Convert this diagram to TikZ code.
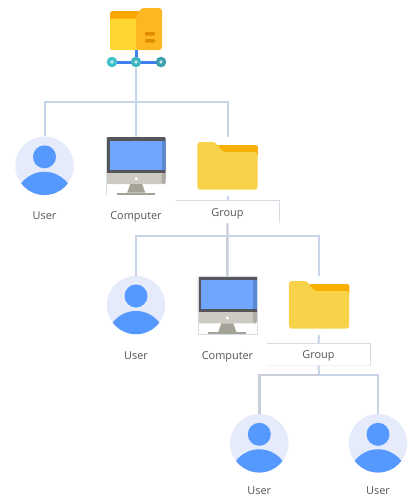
\documentclass[tikz,border=0pt]{standalone}
\usepackage{fontspec}
\setmainfont{Open Sans}
\definecolor{linkc}{HTML}{C6D6E8}
\definecolor{linkg}{HTML}{C9CFD8}
\definecolor{boxc}{HTML}{D6DCE4}
\definecolor{avbg}{HTML}{E6EBFC}
\definecolor{avfg}{HTML}{5599FF}
\definecolor{bezel}{HTML}{55565B}
\definecolor{scr}{HTML}{6FA6FF}
\definecolor{scrd}{HTML}{5A88D2}
\definecolor{silver}{HTML}{CDCAC3}
\definecolor{silverd}{HTML}{B0ADA6}
\definecolor{standc}{HTML}{A5A398}
\definecolor{fold}{HTML}{F8D248}
\definecolor{foldd}{HTML}{F9B000}
\definecolor{rootf}{HTML}{FFD733}
\definecolor{rootb}{HTML}{F9A602}
\definecolor{rootr}{HTML}{FDB720}
\definecolor{rootm}{HTML}{E08C00}
\definecolor{rootl}{HTML}{3F7FF0}
\definecolor{txt}{HTML}{555555}
\tikzset{
  x=1pt,y=-1pt,
  link/.style={draw=linkc,line width=2pt},
  linkthick/.style={draw=linkg,line width=2.4pt},
  boxline/.style={draw=boxc,line width=0.9pt},
  lbl/.style={font=\fontsize{10.9}{12}\selectfont,text=txt,inner sep=0pt,text height=8pt,text depth=0pt},
  groupbox/.style={lbl,minimum width=103pt,minimum height=22pt},
  usericon/.style={circle,inner sep=0pt,minimum size=58.5pt,fill=avbg,
    path picture={
      \begin{scope}[shift={(path picture bounding box.center)}]
        \fill[avfg] (0,-9) circle (11.5);
        \fill[avfg] (0,35.5) circle (29.5);
      \end{scope}}},
  pcicon/.style={rectangle,inner sep=0pt,minimum width=59pt,minimum height=58.5pt,
    path picture={
      \begin{scope}[shift={(path picture bounding box.center)}]
        \fill[bezel,rounded corners=1.2pt] (-29.5,-29) rectangle (29.5,8);
        \fill[scr] (-26.5,-25) rectangle (26.5,4);
        \fill[scrd] (26,-25) rectangle (29.5,4);
        \fill[silver,rounded corners=1.5pt] (-29.5,7) rectangle (29.5,18);
        \fill[silver] (-29.5,7) rectangle (29.5,12);
        \fill[silverd,rounded corners=1.5pt] (25.5,7) rectangle (29.5,18);
        \fill[silverd] (25.5,7) rectangle (29.5,12);
        \fill[standc] (-6,18) -- (6,18) -- (9,26.5) -- (-9,26.5) -- cycle;
        \fill[standc] (-19,26.5) rectangle (19,29);
        \fill[white] (0,12.7) circle (1.7);
      \end{scope}}},
  foldericon/.style={rectangle,inner sep=0pt,minimum width=61pt,minimum height=59pt,
    path picture={
      \begin{scope}[shift={(path picture bounding box.center)}]
        \fill[foldd,rounded corners=2pt] (-10,-21.5) rectangle (30.3,-10);
        \fill[fold,rounded corners=3pt] (-30.2,-24.5) -- (-12,-24.5) -- (-5,-14.5) -- (30.2,-14.5)
           -- (30.2,23.2) -- (-30.2,23.2) -- cycle;
      \end{scope}}},
  rooticon/.style={rectangle,inner sep=0pt,minimum width=62pt,minimum height=59.5pt,
    path picture={
      \begin{scope}[shift={(path picture bounding box.center)}]
        \fill[rootb,rounded corners=2.5pt] (-26,-26.7) rectangle (8,-10);
        \fill[rootf,rounded corners=2pt] (-26,-19) rectangle (3,12.3);
        \fill[rootf] (-26,-18.7) rectangle (3,0);
        \fill[rootr,rounded corners=3pt] (0,12.3) -- (26,12.3) -- (26,-29.7) -- (5,-29.7) -- (0,-21) -- cycle;
        \fill[rootm,rounded corners=1pt] (9,-5.7) rectangle (19,-2);
        \fill[rootm,rounded corners=1pt] (9,1.3) rectangle (19,5);
        \fill[rootl] (-1.5,12.3) rectangle (1.5,24.3);
        \fill[rootl] (-24,22.8) rectangle (25,25.8);
        \foreach \cx/\cc in {-24/3FC2CB,0/3FB5C2,25/3B9FAE}{
          \definecolor{dotc}{HTML}{\cc}
          \fill[dotc] (\cx,24.3) circle (5.3);
          \fill[white!70!dotc] (\cx,24.3) circle (1.9);
        }
      \end{scope}}}
}
\begin{document}
\begin{tikzpicture}
\useasboundingbox (0,0) rectangle (408,496);
\node[rooticon] (root) at (136,37.7) {};
% level 1
\node[usericon] (u1) at (44.5,165.8) {};
\node[pcicon] (c1) at (136.2,166) {};
\node[foldericon] (f1) at (227.5,166.5) {};
\node[lbl] (lu1) at (44.5,215) {User};
\node[lbl] (lc1) at (136,215) {Computer};
\node[groupbox] (g1) at (227.5,212) {Group};
% level 2
\node[usericon] (u2) at (136,305) {};
\node[pcicon,draw=boxc,line width=0.6pt] (c2) at (227.3,305.3) {};
\node[foldericon] (f2) at (319,305.5) {};
\node[lbl] (lu2) at (136,355) {User};
\node[lbl] (lc2) at (227.5,355) {Computer};
\node[groupbox] (g2) at (318.5,354.3) {Group};
% level 3
\node[usericon] (u3) at (259.3,443.3) {};
\node[usericon] (u4) at (378,443.3) {};
\node[lbl] (lu3) at (259.3,490.5) {User};
\node[lbl] (lu4) at (378,490.5) {User};
% bus points
\coordinate (b1) at (136.2,101.5);
\coordinate (b2) at (227.5,236);
\coordinate (b3) at (319,374.7);
% connectors
\draw[link] (root.south) -- (c1.north);
\draw[link] (u1.north) |- (b1) -| (f1.north);
\draw[link] (f1.south) -- (g1.north);
\draw[boxline] (g1.north west) -- (g1.north east) -- (g1.south east);
\draw[boxline,line width=0.5pt] (c1.north west) -- (c1.south west);
\draw[linkthick] (g1.south) -- (c2.north);
\draw[link] (u2.north) |- (b2) -| (f2.north);
\draw[link] (f2.south) -- (g2.north);
\draw[boxline] (g2.north west) -- (g2.north east) -- (g2.south east);
\draw[boxline,draw=boxc!40] (g2.south west) -- (g2.south east);
\draw[link] (g2.south) -- (b3);
\draw[linkthick] (u3.north) |- (b3);
\draw[link] (u4.north) |- (b3);
\end{tikzpicture}
\end{document}
